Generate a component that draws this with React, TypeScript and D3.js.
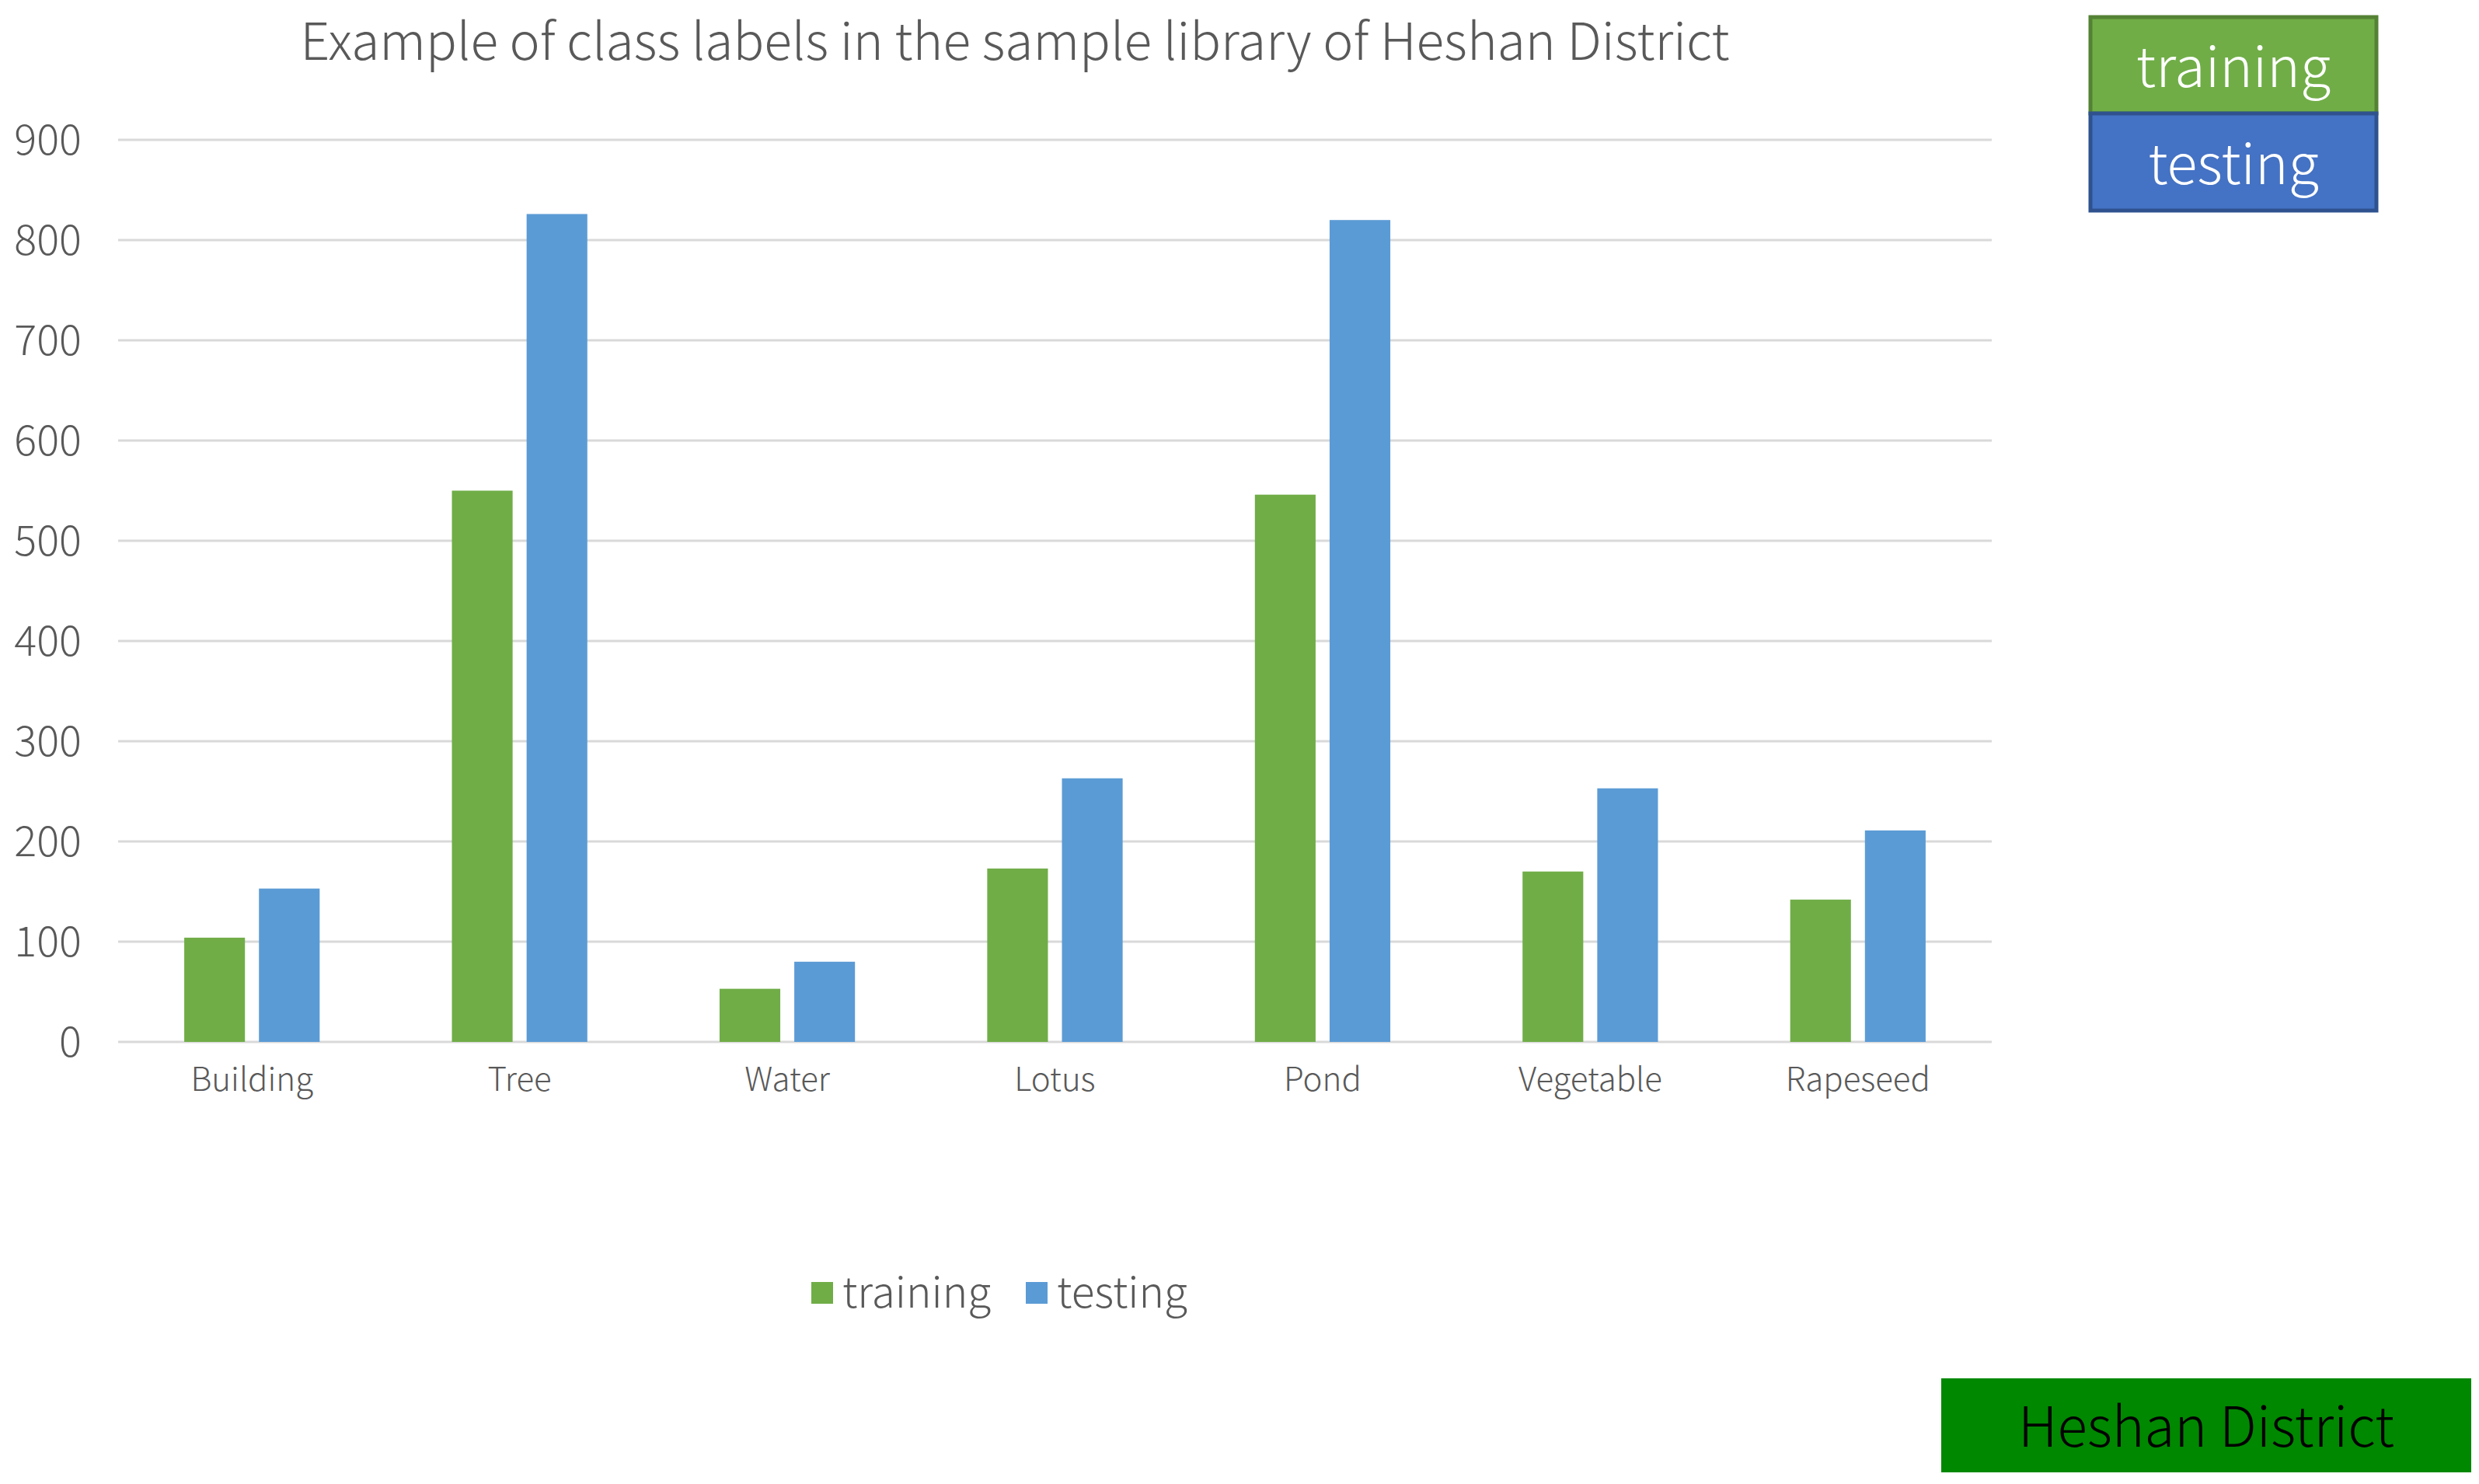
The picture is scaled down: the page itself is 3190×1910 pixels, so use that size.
import { useEffect } from "react";
import * as d3 from "d3";

const categories = ["Building", "Tree", "Water", "Lotus", "Pond", "Vegetable", "Rapeseed"];
const training = [104, 550, 53, 173, 546, 170, 142];
const testing = [153, 826, 80, 263, 820, 253, 211];
const seriesNames = ["training", "testing"];
const yTicks = [0, 100, 200, 300, 400, 500, 600, 700, 800, 900];

const W = 3190;
const H = 1910;
const FONT = "'Noto Sans CJK SC', 'Noto Sans', sans-serif";
const TEXT_COLOR = "#595959";
const colors = { training: "#70AD47", testing: "#5B9BD5" };

export default function App() {
  useEffect(() => {
    document.body.style.margin = "0";
  }, []);

  const x0 = d3.scaleBand().domain(categories).range([152, 2563]).padding(0);
  const x1 = d3
    .scaleBand()
    .domain(seriesNames)
    .range([0, x0.bandwidth()])
    .paddingInner(0.1875)
    .paddingOuter(0.885);
  const y = d3.scaleLinear().domain([0, 900]).range([1341, 180]);

  const rows = categories.map((c, i) => ({ cat: c, training: training[i], testing: testing[i] }));

  return (
    <svg width={W} height={H} style={{ display: "block", background: "#fff" }} fontFamily={FONT}>
      {/* title */}
      <text x={1306} y={77} textAnchor="middle" fontSize={66} fontWeight={300} fill={TEXT_COLOR}>
        Example of class labels in the sample library of Heshan District
      </text>

      {/* gridlines + y labels */}
      {yTicks.map((t) => (
        <g key={t}>
          <line x1={152} x2={2563} y1={y(t)} y2={y(t)} stroke="#D9D9D9" strokeWidth={3} />
          <text x={105} y={y(t)} dy="0.36em" textAnchor="end" fontSize={54} fontWeight={300} fill={TEXT_COLOR}>
            {t}
          </text>
        </g>
      ))}

      {/* bars */}
      {rows.map((r) => (
        <g key={r.cat} transform={`translate(${x0(r.cat)},0)`}>
          {seriesNames.map((s) => (
            <rect
              key={s}
              x={x1(s)}
              y={y((r as any)[s])}
              width={x1.bandwidth()}
              height={y(0) - y((r as any)[s])}
              fill={(colors as any)[s]}
            />
          ))}
          <text
            x={x0.bandwidth() / 2}
            y={1404}
            textAnchor="middle"
            fontSize={42}
            fontWeight={300}
            fill={TEXT_COLOR}
          >
            {r.cat}
          </text>
        </g>
      ))}

      {/* bottom legend */}
      <rect x={1044} y={1650} width={28} height={28} fill={colors.training} />
      <text x={1084} y={1683} fontSize={55} fontWeight={300} fill={TEXT_COLOR}>training</text>
      <rect x={1320} y={1650} width={28} height={28} fill={colors.testing} />
      <text x={1360} y={1683} fontSize={55} fontWeight={300} fill={TEXT_COLOR}>testing</text>

      {/* top-right legend boxes */}
      <rect x={2690} y={22} width={368} height={124} fill="#70AD47" stroke="#548235" strokeWidth={5} />
      <text x={2874} y={112} textAnchor="middle" fontSize={72} fontWeight={300} fill="#fff">training</text>
      <rect x={2690} y={146} width={368} height={125} fill="#4472C4" stroke="#2F528F" strokeWidth={5} />
      <text x={2874} y={237} textAnchor="middle" fontSize={72} fontWeight={300} fill="#fff">testing</text>

      {/* district label */}
      <rect x={2498} y={1774} width={682} height={121} fill="#008800" />
      <text x={2839} y={1862} textAnchor="middle" fontSize={71} fontWeight={300} fill="#000">
        Heshan District
      </text>
    </svg>
  );
}
